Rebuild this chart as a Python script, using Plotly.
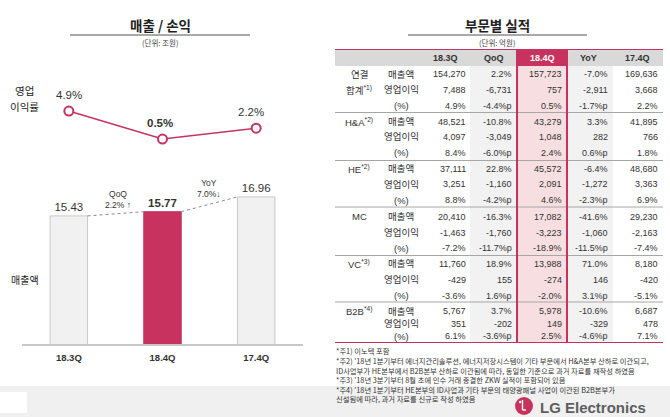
import plotly.graph_objects as go

W, H = 670, 417

# ---------------- data ----------------
quarters = ["18.3Q", "18.4Q", "17.4Q"]
sales = [15.43, 15.77, 16.96]            # 매출액 (조원)
op_margin = [4.9, 0.5, 2.2]              # 영업이익률 (%)
qoq_text = "QoQ<br>2.2% ↑"
yoy_text = "YoY<br>7.0%↓"

table_cols = ["18.3Q", "QoQ", "18.4Q", "YoY", "17.4Q"]
segments = ["연결", "H&A", "HE", "MC", "VC", "B2B"]
segment_notes = ["*1)", "*2)", "*2)", "", "*3)", "*4)"]
metrics = ["매출액", "영업이익", "(%)"]

val_183Q = ["154,270", "7,488", "4.9%",
            "48,521", "4,097", "8.4%",
            "37,111", "3,251", "8.8%",
            "20,410", "-1,463", "-7.2%",
            "11,760", "-429", "-3.6%",
            "5,767", "351", "6.1%"]
val_qoq = ["2.2%", "-6,731", "-4.4%p",
           "-10.8%", "-3,049", "-6.0%p",
           "22.8%", "-1,160", "-4.2%p",
           "-16.3%", "-1,760", "-11.7%p",
           "18.9%", "155", "1.6%p",
           "3.7%", "-202", "-3.6%p"]
val_184Q = ["157,723", "757", "0.5%",
            "43,279", "1,048", "2.4%",
            "45,572", "2,091", "4.6%",
            "17,082", "-3,223", "-18.9%",
            "13,988", "-274", "-2.0%",
            "5,978", "149", "2.5%"]
val_yoy = ["-7.0%", "-2,911", "-1.7%p",
           "3.3%", "282", "0.6%p",
           "-6.4%", "-1,272", "-2.3%p",
           "-41.6%", "-1,060", "-11.5%p",
           "71.0%", "146", "3.1%p",
           "-10.6%", "-329", "-4.6%p"]
val_174Q = ["169,636", "3,668", "2.2%",
            "41,895", "766", "1.8%",
            "48,680", "3,363", "6.9%",
            "29,230", "-2,163", "-7.4%",
            "8,180", "-420", "-5.1%",
            "6,687", "478", "7.1%"]
table_values = [val_183Q, val_qoq, val_184Q, val_yoy, val_174Q]

footnotes = [
    "*주1) 이노텍 포함",
    "*주2) '18년 1분기부터 에너지관리솔루션, 에너지저장시스템이 기타 부문에서 H&A본부 산하로 이관되고,",
    "ID사업부가 HE본부에서 B2B본부 산하로 이관됨에 따라, 동일한 기준으로 과거 자료를 재작성 하였음",
    "*주3) '18년 3분기부터 8월 초에 인수 거래 종결한 ZKW 실적이 포함되어 있음",
    "*주4) '18년 1분기부터 HE본부의 ID사업과 기타 부문의 태양광패널 사업이 이관된 B2B본부가",
    "신설됨에 따라, 과거 자료를 신규로 작성 하였음",
]

# ---------------- style ----------------
CRIMSON = "#c8325f"
GRAY_BAR = "#f1f1f1"
GRAY_EDGE = "#c8c8c8"
TXT = "#333333"
NUM = "Liberation Sans, Arial, Noto Sans CJK KR, sans-serif"
KR = "Noto Sans CJK KR, Noto Sans, sans-serif"


def px(x):
    return x / W


def py(y):
    return 1 - y / H


def note(x, y, text, size, color="#222", family=KR, xanchor="center", **kw):
    d = dict(x=px(x), y=py(y), xref="paper", yref="paper", text=text, showarrow=False,
             xanchor=xanchor, yanchor="middle", font=dict(family=family, size=size, color=color))
    d.update(kw)
    return d


fig = go.Figure()

# --- bars (매출액) ---
bar_colors = [GRAY_BAR, CRIMSON, GRAY_BAR]
bar_edges = [GRAY_EDGE, CRIMSON, GRAY_EDGE]
bar_text = [f"<b>{v:.2f}</b>" if q == "18.4Q" else f"{v:.2f}" for q, v in zip(quarters, sales)]
fig.add_trace(go.Bar(
    x=quarters, y=sales, width=0.4,
    marker=dict(color=bar_colors, line=dict(color=bar_edges, width=1)),
    text=bar_text, textposition="outside", constraintext="none", cliponaxis=True,
    textfont=dict(family=NUM, size=11.5, color=TXT),
    xaxis="x", yaxis="y", hoverinfo="skip", showlegend=False,
))

# --- line (영업이익률) ---
fig.add_trace(go.Scatter(
    x=quarters, y=op_margin, mode="lines+markers",
    line=dict(color=CRIMSON, width=1.5),
    marker=dict(size=9, color="white", line=dict(color=CRIMSON, width=2)),
    xaxis="x2", yaxis="y2", cliponaxis=False, hoverinfo="skip", showlegend=False,
))

annotations = []
shapes = []

# margin labels
label_xshift = [0, -3, -5]
for i, (q, m) in enumerate(zip(quarters, op_margin)):
    t = f"{m:.1f}%"
    if q == "18.4Q":
        t = f"<b>{t}</b>"
    annotations.append(dict(x=i, y=m, xref="x2", yref="y2", text=t, showarrow=False,
                            xanchor="center", yanchor="middle",
                            yshift=16, xshift=label_xshift[i],
                            font=dict(family=NUM, size=11.5, color=TXT)))

# connectors between bars
for i in range(len(sales) - 1):
    shapes.append(dict(type="line", xref="x", yref="y", x0=i + 0.2, x1=i + 0.8,
                       y0=sales[i], y1=sales[i + 1],
                       line=dict(color="#8a8a8a", width=1, dash="dot")))

annotations.append(dict(x=0.5, y=(sales[0] + sales[1]) / 2, xref="x", yref="y", text=qoq_text,
                        showarrow=False, yshift=14, xshift=2, xanchor="center", yanchor="middle",
                        font=dict(family=NUM, size=8.5, color=TXT)))
annotations.append(dict(x=1.5, y=(sales[1] + sales[2]) / 2, xref="x", yref="y", text=yoy_text,
                        showarrow=False, yshift=16, xanchor="center", yanchor="middle",
                        font=dict(family=NUM, size=8.5, color=TXT)))

# left titles
annotations += [
    note(160, 25, "<b>매출 / 손익</b>", 13.5),
    note(160, 42, "(단위: 조원)", 7.5, color="#444"),
    note(24.5, 90, "영업", 10.5),
    note(24.5, 107, "이익률", 10.5),
    note(24.5, 279, "매출액", 10),
]
shapes.append(dict(type="line", xref="paper", yref="paper", x0=px(70), x1=px(250),
                   y0=py(35), y1=py(35), line=dict(color="#555", width=1)))

# right titles
annotations += [
    note(497, 25, "<b>부문별 실적</b>", 13.5),
    note(497, 42, "(단위: 억원)", 7.5, color="#444"),
]
shapes.append(dict(type="line", xref="paper", yref="paper", x0=px(408), x1=px(587),
                   y0=py(35), y1=py(35), line=dict(color="#555", width=1)))

# ---------------- table (x3 / y3 in pixel-like units) ----------------
T_L, T_R, T_TOP, H_BOT, T_BOT = 335, 663, 49, 66, 343
col_bounds = [470, 517, 567, 613]
col_right = [468, 514, 564, 610, 660]
header_center = [445, 494, 542, 588, 637]
row_centers = [74, 89.5, 105.5, 121.5, 136.5, 152.5, 168.5, 184, 200,
               216.5, 232.5, 248, 263.5, 279.5, 295.5, 311, 323.5, 336]
group_seps = [112.5, 160.5, 207, 255.5, 302]
GROUP_X, METRIC_X = 359, 401


def tshape(**kw):
    d = dict(xref="x3", yref="y3", layer="below")
    d.update(kw)
    shapes.append(d)


tshape(type="rect", x0=T_L, x1=T_R, y0=T_TOP, y1=H_BOT, fillcolor="#d9d9d9", line=dict(width=0))
tshape(type="rect", x0=col_bounds[0], x1=col_bounds[1], y0=H_BOT, y1=T_BOT, fillcolor="#f2f2f2", line=dict(width=0))
tshape(type="rect", x0=col_bounds[2], x1=col_bounds[3], y0=H_BOT, y1=T_BOT, fillcolor="#f2f2f2", line=dict(width=0))
tshape(type="rect", x0=col_bounds[1], x1=col_bounds[2], y0=H_BOT, y1=T_BOT, fillcolor="#f7dfe1", line=dict(width=0))
tshape(type="rect", x0=col_bounds[1], x1=col_bounds[2], y0=T_TOP, y1=H_BOT, fillcolor=CRIMSON, line=dict(width=0))
for ys in group_seps:
    tshape(type="line", x0=T_L, x1=T_R, y0=ys, y1=ys, line=dict(color="#a6a6a6", width=1))
tshape(type="line", x0=T_L, x1=T_R, y0=T_TOP, y1=T_TOP, line=dict(color=CRIMSON, width=2))
tshape(type="line", x0=T_L, x1=T_R, y0=T_BOT, y1=T_BOT, line=dict(color=CRIMSON, width=2))
tshape(type="line", x0=col_bounds[1], x1=col_bounds[1], y0=T_TOP, y1=T_BOT, line=dict(color=CRIMSON, width=2))
tshape(type="line", x0=col_bounds[2], x1=col_bounds[2], y0=T_TOP, y1=T_BOT, line=dict(color=CRIMSON, width=2))

TSIZE = 9
for c, name in enumerate(table_cols):
    annotations.append(dict(x=header_center[c], y=58, xref="x3", yref="y3", text=f"<b>{name}</b>",
                            showarrow=False, xanchor="center", yanchor="middle",
                            font=dict(family=NUM, size=TSIZE,
                                      color="white" if name == "18.4Q" else TXT)))

group_rows = []
for seg, nt in zip(segments, segment_notes):
    sup = f"<sup>{nt}</sup>" if nt else ""
    if seg == "연결":
        group_rows += [seg, "합계" + sup, ""]
    else:
        group_rows += [seg + sup, "", ""]
metric_rows = metrics * len(segments)

for r, yc in enumerate(row_centers):
    if group_rows[r]:
        annotations.append(dict(x=GROUP_X, y=yc, xref="x3", yref="y3", text=group_rows[r],
                                showarrow=False, xanchor="center", yanchor="middle",
                                font=dict(family=NUM, size=9.5, color=TXT)))
    annotations.append(dict(x=METRIC_X, y=yc, xref="x3", yref="y3", text=metric_rows[r],
                            showarrow=False, xanchor="center", yanchor="middle",
                            font=dict(family=NUM, size=9.5, color=TXT)))
    for c, vals in enumerate(table_values):
        annotations.append(dict(x=col_right[c], y=yc, xref="x3", yref="y3", text=vals[r],
                                xanchor="right", yanchor="middle", showarrow=False,
                                font=dict(family=NUM, size=TSIZE, color=TXT)))

# footnotes
foot_y = [351, 361, 370.5, 380, 389.5, 399]
for t, yy in zip(footnotes, foot_y):
    annotations.append(note(335, yy, t, 7.3, color="#333", xanchor="left", borderpad=0))

# bottom band + logo
shapes.insert(0, dict(type="rect", xref="paper", yref="paper", x0=0, x1=1, y0=0, y1=py(386),
                      fillcolor="#f0f0f0", line=dict(width=0), layer="below"))
shapes.insert(1, dict(type="rect", xref="paper", yref="paper", x0=0, x1=px(27), y0=py(413), y1=py(392),
                      fillcolor="#ffffff", line=dict(width=0), layer="below"))
shapes += [
    dict(type="circle", xref="paper", yref="paper", x0=px(515), x1=px(533), y0=py(415), y1=py(397),
         fillcolor=CRIMSON, line=dict(width=0)),
    dict(type="circle", xref="paper", yref="paper", x0=px(519), x1=px(521.4), y0=py(403.2), y1=py(400.8),
         fillcolor="white", line=dict(width=0)),
    dict(type="line", xref="paper", yref="paper", x0=px(522.5), x1=px(522.5), y0=py(400), y1=py(410),
         line=dict(color="white", width=1.4)),
    dict(type="line", xref="paper", yref="paper", x0=px(522.5), x1=px(526), y0=py(410), y1=py(410),
         line=dict(color="white", width=1.4)),
]
annotations.append(note(538, 407, "<b>LG Electronics</b>", 15, color="#5e5e5e",
                        family="Liberation Sans, Arial, sans-serif", xanchor="left"))

# ---------------- layout ----------------
bar_dom = [py(344), py(170)]
bar_range = [5.1, 5.1 + (344 - 170) / 12.4]
line_dom = [py(142.2), py(91.3)]

fig.update_layout(
    width=W, height=H, margin=dict(l=0, r=0, t=0, b=0), autosize=False,
    paper_bgcolor="white", plot_bgcolor="rgba(0,0,0,0)",
    showlegend=False,
    xaxis=dict(domain=[px(22), px(303)], type="category", range=[-0.5, 2.5], anchor="y",
               showline=True, linecolor=GRAY_EDGE, linewidth=1.5, ticks="", showgrid=False,
               tickfont=dict(family=NUM, size=9.5, color=TXT), ticklabelstandoff=4,
               tickvals=quarters, ticktext=[f"<b>{q}</b>" for q in quarters], fixedrange=True),
    yaxis=dict(domain=bar_dom, range=bar_range, visible=False, anchor="x", fixedrange=True),
    xaxis2=dict(domain=[px(22), px(303)], type="category", range=[-0.5, 2.5], anchor="y2",
                visible=False, fixedrange=True),
    yaxis2=dict(domain=line_dom, range=[0, 8], visible=False, anchor="x2", fixedrange=True),
    xaxis3=dict(domain=[px(T_L), px(T_R)], range=[T_L, T_R], anchor="y3", visible=False, fixedrange=True),
    yaxis3=dict(domain=[py(T_BOT), py(T_TOP)], range=[T_BOT, T_TOP], anchor="x3", visible=False,
                fixedrange=True),
    shapes=shapes, annotations=annotations,
)

fig.write_html("out.html", config={"displayModeBar": False},
               post_script="document.body.style.margin='0px';")
